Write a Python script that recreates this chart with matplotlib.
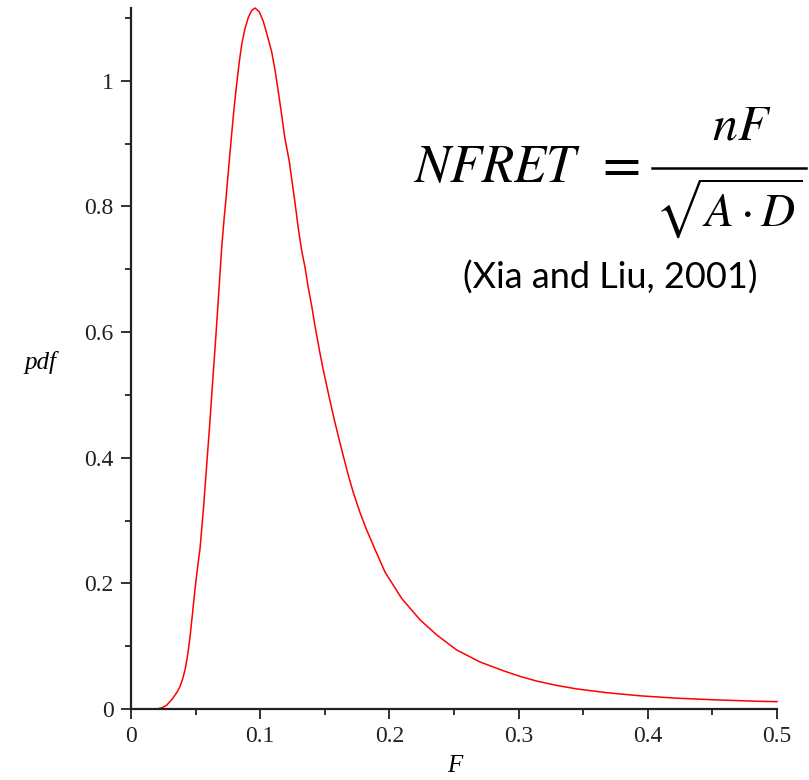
import numpy as np
import matplotlib.pyplot as plt
from matplotlib.lines import Line2D
from matplotlib.ticker import MultipleLocator

# curve
F = [0.020, 0.024, 0.0276, 0.032, 0.036, 0.038, 0.040, 0.042, 0.044, 0.0457,
     0.0475, 0.0495, 0.0515, 0.0534, 0.056, 0.059, 0.061, 0.063, 0.0655, 0.068,
     0.0702, 0.072, 0.0735, 0.0753, 0.0779, 0.0797, 0.0818, 0.0838, 0.0857, 0.0882,
     0.0908, 0.0934, 0.096, 0.0993, 0.1025, 0.105, 0.1089, 0.1115, 0.114, 0.1166,
     0.119, 0.1225, 0.127, 0.1295, 0.132, 0.1347, 0.137, 0.140, 0.1424, 0.1463,
     0.1488, 0.1527, 0.1566, 0.1605, 0.1643, 0.1682, 0.172, 0.1772, 0.1824, 0.1889,
     0.1966, 0.2095, 0.2237, 0.2366, 0.252, 0.270, 0.288, 0.301, 0.314, 0.3295,
     0.345, 0.368, 0.394, 0.4223, 0.453, 0.487, 0.500]
pdf = [0.000, 0.002, 0.006, 0.016, 0.028, 0.036, 0.048, 0.064, 0.088, 0.115,
       0.150, 0.190, 0.225, 0.255, 0.317, 0.400, 0.455, 0.515, 0.588, 0.665,
       0.735, 0.779, 0.812, 0.855, 0.915, 0.955, 0.995, 1.030, 1.058, 1.083,
       1.101, 1.112, 1.116, 1.110, 1.094, 1.076, 1.046, 1.017, 0.983, 0.946,
       0.910, 0.872, 0.805, 0.765, 0.731, 0.703, 0.673, 0.640, 0.610, 0.566,
       0.540, 0.503, 0.467, 0.434, 0.403, 0.372, 0.345, 0.313, 0.285, 0.254,
       0.218, 0.176, 0.142, 0.118, 0.094, 0.075, 0.061, 0.052, 0.0445, 0.0375,
       0.032, 0.026, 0.021, 0.0172, 0.0145, 0.0122, 0.0117]

W, H = 809, 780
fig = plt.figure(figsize=(W / 100, H / 100), dpi=100)
ax = fig.add_axes([131 / W, 1 - 709 / H, (777 - 131) / W, (709 - 8) / H])

ax.plot(F, pdf, color='#ff0000', lw=1.1, clip_on=False)
ax.set_xlim(0, 0.5)
ax.set_ylim(0, 1.116)

for s in ['top', 'right']:
    ax.spines[s].set_visible(False)
for s in ['left', 'bottom']:
    ax.spines[s].set_linewidth(1.6)
    ax.spines[s].set_color('#222222')

ax.xaxis.set_major_locator(MultipleLocator(0.1))
ax.xaxis.set_minor_locator(MultipleLocator(0.05))
ax.yaxis.set_major_locator(MultipleLocator(0.2))
ax.yaxis.set_minor_locator(MultipleLocator(0.1))
ax.xaxis.set_major_formatter(lambda v, p: '0' if v == 0 else '%g' % v)
ax.yaxis.set_major_formatter(lambda v, p: '0' if v == 0 else '%g' % v)
ax.tick_params(which='major', direction='out', length=7.5, width=1.3, color='#222222',
               labelsize=17, pad=5)
ax.tick_params(which='minor', direction='out', length=4.5, width=1.3, color='#222222')
for lab in ax.get_xticklabels() + ax.get_yticklabels():
    lab.set_family('Liberation Serif')
    lab.set_color('#222222')

fig.text(40 / W, 1 - 362 / H, 'pdf', family='Liberation Serif', style='italic',
         fontsize=18, ha='center', va='center')
fig.text(455 / W, 1 - 766 / H, 'F', family='Liberation Serif', style='italic',
         fontsize=18, ha='center', va='center')

# formula, laid out piece by piece
plt.rcParams['mathtext.fontset'] = 'stix'
fig.text(413 / W, 1 - 182 / H, r'$NFRET$', fontsize=38, ha='left', va='baseline')
fig.text(617 / W, 1 - 165 / H, r'$=$', fontsize=40, ha='center', va='center')
fig.add_artist(Line2D([652 / W, 806 / W], [1 - 168 / H, 1 - 168 / H],
                      transform=fig.transFigure, color='black', lw=1.8))
fig.text(742 / W, 1 - 139 / H, r'$nF$', fontsize=36, ha='center', va='baseline')
fig.text(729 / W, 1 - 227 / H, r'$\sqrt{A\cdot D}$', fontsize=34, ha='center',
         va='baseline')

fig.text(610 / W, 1 - 278 / H, '(Xia and Liu, 2001)', family='Lato',
         fontsize=26, ha='center', va='center')

fig.savefig('out.png', dpi=100)
